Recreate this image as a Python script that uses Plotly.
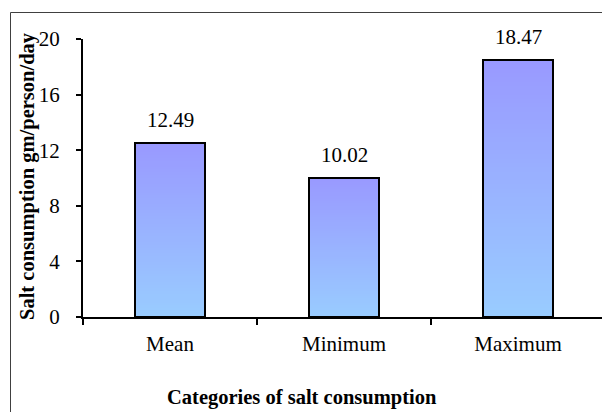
import plotly.graph_objects as go

# Salt consumption summary (gm/person/day)
categories = ["Mean", "Minimum", "Maximum"]
consumption = [12.49, 10.02, 18.47]
y_ticks = [0, 4, 8, 12, 16, 20]

W, H = 602, 412
L, R, T, B = 83, 0, 39, 95

FONT = "Liberation Serif"
TOP_RGB = (153, 153, 255)
BOTTOM_RGB = (153, 204, 255)
N_SLICES = 60
BAR_WIDTH = 0.40


def blend(t):
    r, g, b = (round(lo + (hi - lo) * t) for lo, hi in zip(BOTTOM_RGB, TOP_RGB))
    return f"rgb({r},{g},{b})"


fig = go.Figure()

# Vertical gradient fill: each bar is split into thin stacked slices
for k in range(N_SLICES):
    fig.add_trace(go.Bar(
        x=categories,
        y=[v / N_SLICES for v in consumption],
        base=[v * k / N_SLICES for v in consumption],
        width=BAR_WIDTH,
        marker=dict(color=blend((k + 0.5) / N_SLICES), line=dict(width=0)),
        showlegend=False,
        hoverinfo="skip",
    ))

# Black outline over the full bar height
fig.add_trace(go.Bar(
    x=categories,
    y=consumption,
    width=BAR_WIDTH,
    marker=dict(color="rgba(0,0,0,0)", line=dict(color="black", width=2)),
    showlegend=False,
))

# Value labels above bars
for c, v in zip(categories, consumption):
    fig.add_annotation(
        x=c, y=v, text=f"{v:.2f}", showarrow=False,
        yanchor="bottom", yshift=9,
        font=dict(family=FONT, size=21, color="black"),
    )

plot_w = W - L - R
plot_h = H - T - B

# Axis titles
fig.add_annotation(
    xref="paper", yref="paper",
    x=(302 - L) / plot_w, y=-(H - 1 - (H - B)) / plot_h,
    text="<b>Categories of salt consumption</b>", showarrow=False,
    xanchor="center", yanchor="bottom",
    font=dict(family=FONT, size=20.5, color="black"),
)
fig.add_annotation(
    xref="paper", yref="paper",
    x=-(L - 27) / plot_w, y=((H - B) - 176) / plot_h,
    text="<b>Salt consumption gm/person/day</b>", showarrow=False,
    textangle=-90, xanchor="center", yanchor="middle",
    font=dict(family=FONT, size=20.5, color="black"),
)

# Outer chart frame
fig.add_shape(
    type="rect", xref="paper", yref="paper",
    x0=-(L - 10.5) / plot_w, x1=1.2,
    y0=-0.5, y1=1 + (T - 12.5) / plot_h,
    line=dict(color="#404040", width=1), fillcolor="rgba(0,0,0,0)",
    layer="below",
)

fig.update_layout(
    width=W, height=H,
    margin=dict(l=L, r=R, t=T, b=B, pad=0),
    paper_bgcolor="white", plot_bgcolor="white",
    barmode="overlay", bargap=0,
    font=dict(family=FONT, size=21, color="black"),
    showlegend=False,
)
fig.update_xaxes(
    type="category",
    range=[-0.5, 2.5 - 3 / 174],
    showline=True, linecolor="black", linewidth=2,
    ticks="outside", tickson="boundaries", ticklen=6, tickwidth=2, tickcolor="black",
    ticklabelstandoff=7,
    tickfont=dict(family=FONT, size=21, color="black"),
    showgrid=False, zeroline=False,
)
fig.update_yaxes(
    range=[0, 20], tickvals=y_ticks,
    showline=True, linecolor="black", linewidth=2,
    ticks="outside", ticklen=5, tickwidth=2, tickcolor="black",
    ticklabelstandoff=12,
    tickfont=dict(family=FONT, size=21, color="black"),
    showgrid=False, zeroline=False,
)

fig.write_html("out.html")
